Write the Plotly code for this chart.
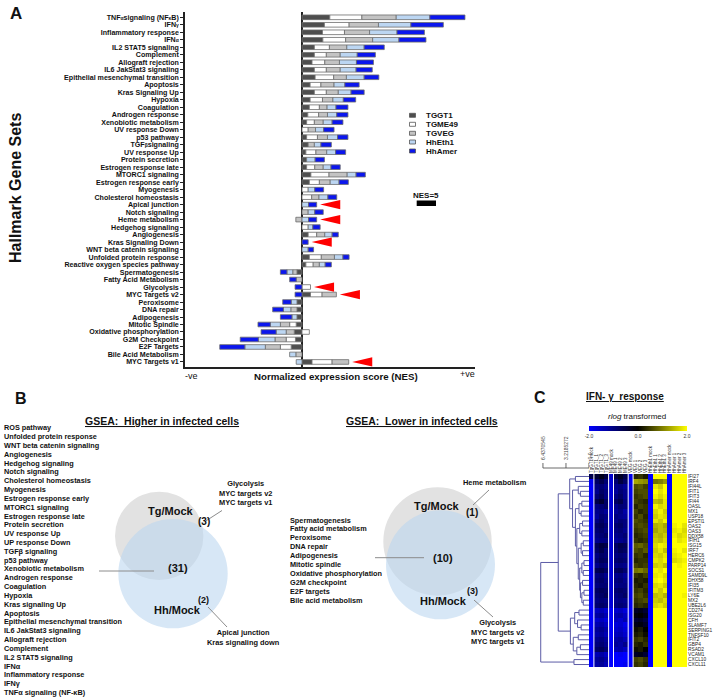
import plotly.graph_objects as go

W, H = 720, 700
def PX(x): return x / W
def PY(y): return 1 - y / H

FONT = 'Liberation Sans, Arial, sans-serif'
def small(s):
    return f'<span style="font-size:5px">{s}</span>'

# ---------------- Panel A data ----------------
gene_sets = [
    f'TNF{small("α")}signaling (NF{small("κ")}B)', f'IFN{small("γ")}', 'Inflammatory response', f'IFN{small("α")}',
    'IL2 STAT5 signaling', 'Complement', 'Allograft rejection', 'IL6 JakStat3 signaling',
    'Epithelial mesenchymal transition', 'Apoptosis', 'Kras Signaling Up', 'Hypoxia', 'Coagulation',
    'Androgen response', 'Xenobiotic metabolism', 'UV response Down', 'p53 pathway',
    f'TGF{small("β")}signaling', 'UV response Up', 'Protein secretion', 'Estrogen response late',
    'MTORC1 signaling', 'Estrogen response early', 'Myogenesis', 'Cholesterol homeostasis',
    'Apical junction', 'Notch signaling', 'Heme metabolism', 'Hedgehog signaling', 'Angiogenesis',
    'Kras Signaling Down', 'WNT beta catenin signaling', 'Unfolded protein response',
    'Reactive oxygen species pathway', 'Spermatogenesis', 'Fatty Acid Metabolism', 'Glycolysis',
    'MYC Targets v2', 'Peroxisome', 'DNA repair', 'Adipogenesis', 'Mitotic Spindle',
    'Oxidative phosphorylation', 'G2M Checkpoint', 'E2F Targets', 'Bile Acid Metabolism', 'MYC Targets v1']

series_names = ['TGGT1', 'TGME49', 'TGVEG', 'HhEth1', 'HhAmer']
series_colors = ['#4e4e4e', '#ffffff', '#c3c3c3', '#bcd6f2', '#0b16ee']

tggt1 = [7.2, 5.8, 5.3, 5.4, 3.2, 3.2, 2.6, 3.2, 3.4, 2.1,
         3.2, 2.1, 1.9, 1.5, 1.2, 0, 1.2, 1.6, 1.0, 1.2,
         1.2, 2.3, 1.9, 0, 0, 0, 0, 0, 0, 1.6,
         0, 0, 1.9, 1.0, -1.3, 0, 0, 2.2, -1.3, -1.3,
         -1.3, -1.5, -2.0, -1.7, -2.8, 0, 2.6]
tgme49 = [8.3, 6.4, 5.7, 5.9, 3.9, 3.1, 3.3, 3.1, 4.8, 2.8,
          3.1, 3.2, 2.6, 2.8, 2.0, 1.6, 2.8, 0, 2.6, 0,
          2.1, 4.7, 2.6, 1.6, 2.5, 0, 0, 0, 1.6, 2.2,
          0, 0, 3.1, 1.9, 0, 0, 2.2, 3.0, 0, 0,
          0, -1.7, 1.9, -2.4, -2.8, 0, 5.2]
tgveg = [8.9, 7.6, 6.5, 7.0, 4.5, 3.6, 3.8, 3.6, 3.3, 3.4,
         3.1, 2.7, 2.0, 2.3, 2.3, 1.9, 2.6, 1.6, 2.8, 0,
         2.2, 4.7, 2.8, 0, 1.9, 0, 1.6, -1.6, 0, 2.1,
         0, 0, 3.4, 1.6, -1.1, -1.5, 0, 3.7, 0, -1.6,
         0, -2.4, -2.1, -2.9, -3.9, -1.6, 4.3]
hheth1 = [8.7, 8.4, 7.1, 6.8, 4.5, 4.4, 4.4, 4.1, 4.6, 2.8,
          3.3, 2.7, 2.3, 2.4, 2.3, 2.1, 2.6, 1.7, 2.3, 2.2,
          2.0, 2.3, 2.3, 1.7, 2.3, 1.7, 1.7, 1.7, 1.2, 1.9,
          0, 1.6, 2.2, 1.5, -1.5, 0, 0, 0, -1.5, -1.9,
          -1.3, -2.6, -2.6, -4.3, -5.3, -1.6, -1.5]
hhamer = [9.1, 8.4, 7.1, 7.0, 5.2, 4.7, 4.4, 4.2, 3.8, 3.7,
          3.4, 3.2, 3.1, 2.9, 2.8, 2.7, 2.7, 2.7, 2.6, 2.4,
          2.4, 2.4, 2.4, 2.3, 2.3, 2.1, 2.2, 2.1, 1.9, 1.6,
          1.6, 1.4, 1.6, 1.6, -1.7, -1.7, -1.8, -1.8, -2.2, -2.8,
          -3.0, -3.2, -3.9, -4.7, -6.5, 0, 0]
series_values = [tggt1, tgme49, tgveg, hheth1, hhamer]

arrow_sets = ['Apical junction', 'Heme metabolism', 'Kras Signaling Down',
              'Glycolysis', 'MYC Targets v2', 'MYC Targets v1']
NES_SCALE = 5

# ---------------- Panel B data ----------------
higher_only_all = ['ROS pathway', 'Unfolded protein response', 'WNT beta catenin signaling', 'Angiogenesis',
                   'Hedgehog signaling', 'Notch signaling', 'Cholesterol homeostasis', 'Myogenesis',
                   'Estrogen response early', 'MTORC1 signaling', 'Estrogen response late', 'Protein secretion',
                   'UV response Up', 'UP response Down', 'TGFβ signaling', 'p53 pathway', 'Xenobiotic metabolism',
                   'Androgen response', 'Coagulation', 'Hypoxia', 'Kras signaling Up', 'Apoptosis',
                   'Epithelial mesenchymal transition', 'IL6 JakStat3 signaling', 'Allograft rejection',
                   'Complement', 'IL2 STAT5 signaling', 'IFNα', 'Inflammatory response', 'IFNγ',
                   'TNFα signaling (NF-κB)']
higher_tg_only = ['Glycolysis', 'MYC targets v2', 'MYC targets v1']
higher_hh_only = ['Apical junction', 'Kras signaling down']
lower_both = ['Spermatogenesis', 'Fatty acid metabolism', 'Peroxisome', 'DNA repair', 'Adipogenesis',
              'Mitotic spindle', 'Oxidative phosphorylation', 'G2M checkpoint', 'E2F targets',
              'Bile acid metabolism']
lower_tg_only = ['Heme metabolism']
lower_hh_only = ['Glycolysis', 'MYC targets v2', 'MYC targets v1']

# ---------------- Panel C data ----------------
hm_genes = ['IFI27', 'IRF4', 'IFI44L', 'IFIT1', 'IFIT3', 'IFI44', 'OASL', 'MX1', 'USP18', 'EPSTI1',
            'OAS2', 'OAS3', 'DDX58', 'IFIH1', 'ISG15', 'IRF7', 'HERC6', 'CMPK2', 'PARP14', 'SOCS1',
            'SAMD9L', 'DHX58', 'IFI35', 'IFITM3', 'LY6E', 'MX2', 'UBE2L6', 'CD274', 'ISG20', 'CFH',
            'SLAMF7', 'SERPING1', 'TNFSF10', 'IFIT2', 'GBP4', 'RSAD2', 'VCAM1', 'CXCL10', 'CXCL11']
hm_samples = ['TgGT1 mock', 'TgGT1_1', 'TgGT1_2', 'TgGT1_3', 'ME49 mock', 'ME49 1', 'ME49 2', 'ME49 3',
              'VEG mock', 'VEG 1', 'VEG 2', 'VEG 3', 'HhEth1 mock', 'HhEth1 1', 'HhEth1 2', 'HhEth1 3',
              'HhAmer mock', 'HhAmer 1', 'HhAmer 2', 'HhAmer 3']
hm_values = [
    [-0.6, -0.4, -0.2, -0.5, -1.6, -0.5, -0.3, -0.6, -1.8, 0.3, 0.4, 0.2, -2.5, 2.2, 2.0, 2.3, -2.8, 2.5, 2.6, 2.4],
    [-1.9, -0.8, -0.6, -0.9, -1.7, -0.9, -0.5, -0.8, -1.9, 1.3, 1.2, 1.1, -2.5, 0.9, 1.0, 1.2, -2.8, 2.4, 2.2, 2.5],
    [-2.0, -1.0, -0.9, -1.1, -1.7, -1.1, -1.0, -1.2, -1.9, 0.6, 0.7, 0.5, -2.5, 1.8, 1.6, 2.0, -2.8, 2.3, 2.5, 2.2],
    [-2.0, -1.1, -0.8, -1.0, -1.7, -1.2, -0.9, -1.1, -1.9, 0.5, 0.6, 0.6, -2.5, 2.0, 1.8, 2.1, -2.8, 2.4, 2.3, 2.4],
    [-2.0, -0.9, -0.7, -1.0, -1.7, -1.0, -0.8, -1.1, -1.9, 0.4, 0.5, 0.6, -2.5, 1.9, 1.7, 1.9, -2.8, 2.3, 2.2, 2.4],
    [-2.0, -0.6, -0.4, -0.8, -1.7, -0.8, -0.6, -1.0, -1.9, 0.5, 0.4, 0.3, -2.5, 1.5, 1.4, 1.8, -2.8, 2.1, 2.2, 2.0],
    [-2.0, -1.0, -0.9, -0.8, -1.7, -1.1, -0.9, -1.0, -1.9, 0.3, 0.5, 0.4, -2.5, 1.9, 1.7, 1.8, -2.8, 2.2, 2.0, 2.3],
    [-2.0, -1.1, -1.0, -1.2, -1.7, -1.2, -1.0, -1.3, -1.9, 0.5, 0.3, 0.4, -2.5, 1.7, 1.9, 1.6, -2.8, 2.0, 2.2, 2.1],
    [-2.0, -1.2, -0.9, -1.0, -1.7, -1.0, -1.1, -1.2, -1.9, 0.4, 0.6, 0.3, -2.5, 1.6, 1.8, 1.7, -2.8, 2.2, 2.1, 2.3],
    [-2.0, -1.0, -0.8, -1.1, -1.7, -1.1, -0.9, -1.0, -1.9, 0.6, 0.5, 0.4, -2.5, 1.8, 1.6, 1.9, -2.8, 2.3, 2.2, 2.0],
    [-2.0, -0.8, -0.7, -0.9, -1.7, -0.9, -0.8, -1.0, -1.9, 0.5, 0.6, 0.5, -2.5, 1.4, 1.5, 1.3, -2.8, 1.9, 2.0, 1.8],
    [-2.0, -0.9, -0.8, -1.0, -1.7, -1.0, -0.9, -1.1, -1.9, 0.4, 0.5, 0.6, -2.5, 1.3, 1.5, 1.4, -2.8, 1.8, 1.9, 1.7],
    [-2.0, -1.0, -0.9, -0.8, -1.7, -1.1, -1.0, -0.9, -1.9, 0.3, 0.4, 0.5, -2.5, 1.5, 1.4, 1.6, -2.8, 1.9, 1.7, 1.8],
    [-2.0, -1.1, -1.0, -1.0, -1.7, -1.2, -1.1, -1.0, -1.9, 0.4, 0.3, 0.4, -2.5, 1.6, 1.5, 1.7, -2.8, 2.0, 1.8, 1.9],
    [-2.0, -0.7, -0.5, -0.6, -1.7, -0.8, -0.6, -0.7, -1.9, 0.7, 0.8, 0.6, -2.5, 1.7, 1.9, 1.8, -2.8, 2.1, 2.0, 2.2],
    [-2.0, -0.8, -0.6, -0.9, -1.7, -0.9, -0.7, -0.8, -1.9, 0.6, 0.5, 0.7, -2.5, 1.6, 1.8, 1.5, -2.8, 1.9, 2.1, 1.8],
    [-2.0, -1.0, -0.8, -0.9, -1.7, -1.0, -0.9, -1.0, -1.9, 0.4, 0.5, 0.3, -2.5, 1.7, 1.6, 1.8, -2.8, 1.8, 1.9, 2.0],
    [-2.0, -0.9, -0.7, -0.8, -1.7, -0.9, -0.8, -0.9, -1.9, 0.3, 0.4, 0.4, -2.5, 1.8, 1.7, 1.9, -2.8, 1.7, 1.8, 1.9],
    [-2.0, -1.1, -0.9, -1.0, -1.7, -1.1, -1.0, -1.1, -1.9, 0.5, 0.4, 0.5, -2.5, 1.6, 1.7, 1.5, -2.8, 2.0, 1.9, 2.1],
    [-2.0, -0.7, -0.6, -0.8, -1.7, -0.8, -0.7, -0.9, -1.9, 0.9, 1.0, 0.8, -2.5, 1.9, 1.8, 2.0, -2.8, 2.2, 2.3, 2.1],
    [-2.0, -1.0, -0.9, -1.1, -1.7, -1.1, -1.0, -1.2, -1.9, 0.4, 0.3, 0.5, -2.5, 1.8, 1.9, 1.7, -2.8, 2.1, 2.0, 2.2],
    [-2.0, -0.9, -0.8, -1.0, -1.7, -1.0, -0.9, -1.1, -1.9, 0.2, 0.3, 0.2, -2.5, 1.9, 2.0, 1.8, -2.8, 2.3, 2.2, 2.4],
    [-2.0, -1.0, -0.9, -0.9, -1.7, -1.1, -1.0, -1.0, -1.9, 0.3, 0.2, 0.4, -2.5, 1.7, 1.8, 1.6, -2.8, 2.2, 2.3, 2.1],
    [-2.0, -0.8, -0.7, -0.8, -1.7, -0.9, -0.8, -0.9, -1.9, 0.4, 0.5, 0.3, -2.5, 1.8, 1.6, 1.9, -2.8, 2.4, 2.3, 2.2],
    [-2.0, -0.9, -0.8, -0.7, -1.7, -1.0, -0.9, -0.8, -1.9, 0.5, 0.6, 0.4, -2.5, 1.5, 1.6, 1.4, -2.8, 2.0, 2.1, 1.9],
    [-2.0, -1.0, -0.9, -1.0, -1.7, -1.1, -1.0, -1.1, -1.9, 0.4, 0.5, 0.6, -2.5, 1.6, 1.5, 1.7, -2.8, 2.1, 2.0, 2.2],
    [-2.0, -0.9, -0.8, -0.9, -1.7, -1.0, -0.9, -1.0, -1.9, 0.3, 0.4, 0.3, -2.5, 1.7, 1.8, 1.6, -2.8, 2.2, 2.1, 2.3],
    [-2.0, -1.5, -1.4, -1.6, -2.0, -1.6, -1.5, -1.7, -2.0, -0.3, -0.2, -0.4, -2.5, 2.8, 2.8, 2.8, -2.8, 2.8, 2.8, 2.8],
    [-2.0, -1.3, -1.2, -1.4, -2.0, -1.4, -1.3, -1.5, -2.0, -0.1, 0.0, -0.2, -2.5, 2.8, 2.8, 2.8, -2.8, 2.8, 2.8, 2.8],
    [-2.0, -1.6, -1.5, -1.7, -2.0, -1.5, -1.6, -1.4, -2.0, -0.4, -0.3, -0.5, -2.5, 2.8, 2.8, 2.8, -2.8, 2.8, 2.8, 2.8],
    [-2.0, -1.4, -1.3, -1.5, -2.0, -1.7, -1.6, -1.8, -2.0, -0.2, -0.1, -0.3, -2.5, 2.8, 2.8, 2.8, -2.8, 2.8, 2.8, 2.8],
    [-2.0, -1.2, -1.1, -1.3, -2.0, -1.6, -1.5, -1.7, -2.0, 0.1, 0.2, 0.0, -2.5, 2.8, 2.8, 2.8, -2.8, 2.8, 2.8, 2.8],
    [-2.0, -1.3, -1.2, -1.4, -2.0, -1.5, -1.4, -1.6, -2.0, 0.2, 0.3, 0.1, -2.5, 2.8, 2.8, 2.8, -2.8, 2.8, 2.8, 2.8],
    [-2.0, -1.1, -1.0, -1.2, -2.0, -1.3, -1.2, -1.4, -2.0, 0.4, 0.5, 0.3, -2.5, 2.8, 2.8, 2.8, -2.8, 2.8, 2.8, 2.8],
    [-2.0, -1.0, -0.9, -1.1, -2.0, -1.2, -1.3, -1.1, -2.0, 0.3, 0.2, 0.4, -2.5, 2.8, 2.8, 2.8, -2.8, 2.8, 2.8, 2.8],
    [-2.0, -0.8, -0.7, -0.9, -2.0, -1.4, -1.3, -1.5, -2.0, 0.1, 0.2, 0.0, -2.5, 2.8, 2.8, 2.8, -2.8, 2.8, 2.8, 2.8],
    [-2.0, -1.4, -1.3, -1.5, -2.0, -2.0, -1.9, -2.1, -2.0, -0.3, -0.2, -0.4, -2.5, 2.8, 2.8, 2.8, -2.8, 2.8, 2.8, 2.8],
    [-2.0, -1.2, -1.1, -1.3, -2.0, -2.1, -2.0, -2.2, -2.0, 0.5, 0.6, 0.4, -2.5, 2.8, 2.8, 2.8, -2.8, 2.8, 2.8, 2.8],
    [-2.0, -1.3, -1.2, -1.4, -2.0, -2.0, -2.1, -1.9, -2.0, 0.4, 0.5, 0.3, -2.5, 2.8, 2.8, 2.8, -2.8, 2.8, 2.8, 2.8],
]
hm_group_breaks = [1, 4, 5, 8, 9]
# dendrogram: [height, left, right]; leaves are row indices
dendro_tree = [6.75,
               [4.3,
                [2.7, [1.9, 0, 1],
                 [2.3, [1.5, 2, [1.2, 3, 4]],
                  [1.9, [1.4, [1.0, 5, 6], [1.1, 7, 8]],
                   [1.7, [1.3, [0.9, 9, 10], [1.0, 11, 12]],
                    [1.5, [1.1, [0.8, 13, 14], [0.9, 15, 16]],
                     [1.3, [1.0, [0.7, 17, 18], [0.8, 19, 20]],
                      [1.2, [0.9, 21, 22], [1.0, [0.7, 23, 24], [0.8, 25, 26]]]]]]]]],
                [2.6, [2.0, [1.4, 27, 28], [1.6, 29, [1.1, 30, 31]]],
                 [2.2, [1.5, 32, 33], [1.7, [1.2, 34, 35], 36]]]],
               [2.1, 37, 38]]
dendro_scale = [6.4370545, 3.2185272, 0.0]

# =====================================================
fig = go.Figure()
rows = list(range(len(gene_sets)))

for name, col, vals in zip(series_names, series_colors, series_values):
    fig.add_trace(go.Bar(
        y=rows, x=[v if v != 0 else None for v in vals], orientation='h', name=name,
        marker=dict(color=col, line=dict(color='#6c6c6c', width=0.8)),
        width=0.62, showlegend=False, xaxis='x', yaxis='y', hoverinfo='skip'))

shapes = []
annotations = []

def ann(x, y, text, size, bold=False, xanchor='center', yanchor='middle', color='#111',
        family=FONT, angle=0, xref='paper', yref='paper'):
    annotations.append(dict(x=x, y=y, xref=xref, yref=yref, text=text, showarrow=False,
                            xanchor=xanchor, yanchor=yanchor, textangle=angle, borderpad=0,
                            font=dict(family=family, size=size, color=color,
                                      weight='bold' if bold else 'normal')))

# red arrows next to selected gene sets
pos_totals = [sum(v for v in col if v > 0) for col in zip(*series_values)]
for gs in arrow_sets:
    r = gene_sets.index(gs)
    tip = pos_totals[r] + 0.9
    shapes.append(dict(type='path', xref='x', yref='y',
                       path=f'M {tip} {r} L {tip + 5.2} {r - 0.62} L {tip + 5.2} {r + 0.62} Z',
                       fillcolor='#ff0000', line=dict(width=0)))

# NES scale bar
shapes.append(dict(type='rect', xref='x', yref='paper', x0=29.7, x1=29.7 + NES_SCALE,
                   y0=PY(206), y1=PY(200.5), fillcolor='#000', line=dict(width=0)))
ann(29.7 + NES_SCALE / 2, PY(195), f'NES={NES_SCALE}', 8, True, xref='x')

# manual legend
leg_y = [115.3, 124.3, 133.3, 142.0, 151.0]
for name, col, ly in zip(series_names, series_colors, leg_y):
    shapes.append(dict(type='rect', xref='paper', yref='paper', x0=PX(409.5), x1=PX(415.5),
                       y0=PY(ly + 2), y1=PY(ly - 2), fillcolor=col,
                       line=dict(color='#555', width=0.8)))
    ann(PX(425), PY(ly), name, 8, True, xanchor='left')

ann(PX(16), PY(13), 'A', 17, True)
ann(PX(15), PY(188), 'Hallmark Gene Sets', 16, True, angle=-90)
ann(PX(336), PY(376), 'Normalized expression score (NES)', 9.7, True)
ann(PX(191), PY(376), '-ve', 9)
ann(PX(467), PY(374), '+ve', 9)

# ---------------- Panel B ----------------
ann(PX(21), PY(398), 'B', 16, True)

def venn(cx_g, cy_g, r_g, cx_b, cy_b, r_b):
    shapes.append(dict(type='circle', xref='paper', yref='paper',
                       x0=PX(cx_g - r_g), x1=PX(cx_g + r_g), y0=PY(cy_g + r_g), y1=PY(cy_g - r_g),
                       fillcolor='#e2e2e2', line=dict(width=0), layer='below'))
    shapes.append(dict(type='circle', xref='paper', yref='paper',
                       x0=PX(cx_b - r_b), x1=PX(cx_b + r_b), y0=PY(cy_b + r_b), y1=PY(cy_b - r_b),
                       fillcolor='rgba(186,213,240,0.58)', line=dict(width=0), layer='below'))

def seg(x0, y0, x1, y1):
    shapes.append(dict(type='line', xref='paper', yref='paper', x0=PX(x0), y0=PY(y0),
                       x1=PX(x1), y1=PY(y1), line=dict(color='#8c8c8c', width=1)))

# left Venn
ann(PX(161.5), PY(421), '<u>GSEA:\u00a0 Higher in infected cells</u>', 10.5, True)
for i, t in enumerate(higher_only_all):
    ann(PX(3), PY(427.7 + i * 8.83), t, 7.3, True, xanchor='left')
venn(159.2, 535.9, 44.2, 173.0, 573.6, 54.7)
ann(PX(170), PY(511), 'Tg/Mock', 11, True)
ann(PX(204), PY(521), f'({len(higher_tg_only)})', 10, True)
ann(PX(178), PY(568), f'({len(higher_only_all)})', 11, True)
ann(PX(203), PY(600), f'({len(higher_hh_only)})', 9, True)
ann(PX(177), PY(610), 'Hh/Mock', 11, True)
ann(PX(245), PY(492.5), '<br>'.join(higher_tg_only), 7.4, True)
ann(PX(243), PY(637.5), '<br>'.join(higher_hh_only), 7.4, True)
seg(99, 571, 154, 571)
seg(205, 521.5, 222, 510.5)
seg(208, 607, 227, 627)

# right Venn
ann(PX(421.5), PY(421), '<u>GSEA:\u00a0 Lower in infected cells</u>', 10.5, True)
for i, t in enumerate(lower_both):
    ann(PX(289), PY(520 + i * 8.9), t, 7.3, True, xanchor='left')
venn(437.5, 541.5, 54.2, 440.5, 564.8, 54.5)
ann(PX(437), PY(506), 'Tg/Mock', 11, True)
ann(PX(472), PY(512), f'({len(lower_tg_only)})', 10, True)
ann(PX(443), PY(558), f'({len(lower_both)})', 11, True)
ann(PX(472), PY(591), f'({len(lower_hh_only)})', 9, True)
ann(PX(443), PY(601), 'Hh/Mock', 11, True)
ann(PX(495), PY(482), lower_tg_only[0], 7.4, True)
ann(PX(497), PY(632), '<br>'.join(lower_hh_only), 7.4, True)
seg(375, 557.7, 424, 557.7)
seg(473, 505, 489, 490)
seg(474, 600, 493, 617)

# ---------------- Panel C ----------------
ann(PX(540), PY(397), 'C', 16, True)
ann(PX(625), PY(396), '<u>IFN-\u00a0γ\u00a0 response</u>', 10, True)
ann(PX(637), PY(416), '<i>rlog</i> transformed', 8)

fig.add_trace(go.Heatmap(
    z=hm_values, x=list(range(len(hm_samples))), y=list(range(len(hm_genes))),
    xaxis='x2', yaxis='y2', zmin=-2, zmax=2,
    colorscale=[[0, '#0000ff'], [0.5, '#000000'], [1, '#ffff00']],
    hoverinfo='skip',
    colorbar=dict(orientation='h', x=PX(638), xanchor='center', y=PY(425.5), yanchor='top',
                  len=98 / W, lenmode='fraction', thickness=4.5, outlinewidth=0,
                  tickvals=[-2, 0, 2], ticktext=['-2.0', '0.0', '2.0'], ticks='',
                  tickfont=dict(family=FONT, size=5, color='#333'), ypad=0, xpad=0)))

for b in hm_group_breaks:
    shapes.append(dict(type='line', xref='x2', yref='y2', x0=b - 0.5, x1=b - 0.5,
                       y0=-0.5, y1=len(hm_genes) - 0.5, line=dict(color='#ffffff', width=1)))

# dendrogram
dx, dy = [], []
def walk(node):
    if isinstance(node, int):
        return node, 0.0
    h, a, b = node
    ya, ha = walk(a)
    yb, hb = walk(b)
    dx.extend([ha, h, h, hb, None])
    dy.extend([ya, ya, yb, yb, None])
    return (ya + yb) / 2, h
walk(dendro_tree)
fig.add_trace(go.Scatter(x=dx, y=dy, mode='lines', line=dict(color='#5c5ca6', width=1),
                         xaxis='x3', yaxis='y3', showlegend=False, hoverinfo='skip'))

shapes.append(dict(type='line', xref='x3', yref='paper', x0=dendro_scale[0], x1=dendro_scale[-1],
                   y0=PY(468), y1=PY(468), line=dict(color='#444', width=0.8)))
for v in dendro_scale:
    shapes.append(dict(type='line', xref='x3', yref='paper', x0=v, x1=v,
                       y0=PY(468), y1=PY(463), line=dict(color='#444', width=0.8)))
    ann(v, PY(461), f'{v}' if v else '0.0', 5, angle=-90, yanchor='bottom', xref='x3', color='#444')

fig.update_layout(
    width=W, height=H, margin=dict(l=0, r=0, t=0, b=0),
    paper_bgcolor='white', plot_bgcolor='rgba(0,0,0,0)', barmode='relative',
    showlegend=False, font=dict(family=FONT, color='#111'),
    shapes=shapes, annotations=annotations,
    xaxis=dict(domain=[PX(185), PX(475)], range=[-30.3, 44.8], anchor='y',
               showticklabels=False, ticks='', showgrid=False, showline=True,
               linecolor='#222', linewidth=1.5, zeroline=True, zerolinecolor='#222',
               zerolinewidth=1.5, fixedrange=True),
    yaxis=dict(domain=[PY(367.2), PY(12.06)], range=[46.7, -0.7], anchor='x',
               tickmode='array', tickvals=rows, ticktext=gene_sets, ticks='outside',
               ticklen=3, tickwidth=1, tickcolor='#222', showline=True, linecolor='#222',
               linewidth=1.5, showgrid=False, zeroline=False,
               tickfont=dict(family=FONT, size=7.1, color='#111', weight='bold')),
    xaxis2=dict(domain=[PX(589), PX(687)], range=[-0.5, len(hm_samples) - 0.5], anchor='y2',
                side='top', tickmode='array', tickvals=list(range(len(hm_samples))),
                ticktext=hm_samples, tickangle=-90, ticks='', showgrid=False, zeroline=False,
                tickfont=dict(family=FONT, size=4.5, color='#333')),
    yaxis2=dict(domain=[PY(667), PY(474)], range=[len(hm_genes) - 0.5, -0.5], anchor='x2',
                side='right', tickmode='array', tickvals=list(range(len(hm_genes))),
                ticktext=hm_genes, ticks='', showgrid=False, zeroline=False,
                tickfont=dict(family=FONT, size=4.8, color='#222')),
    xaxis3=dict(domain=[PX(540), PX(589)], range=[6.85, 0], anchor='y3', visible=False),
    yaxis3=dict(domain=[PY(667), PY(474)], range=[len(hm_genes) - 0.5, -0.5], anchor='x3',
                visible=False),
)

fig.write_html('out.html', config={'displayModeBar': False},
               post_script="document.body.style.margin='0px';document.body.style.padding='0px';")
